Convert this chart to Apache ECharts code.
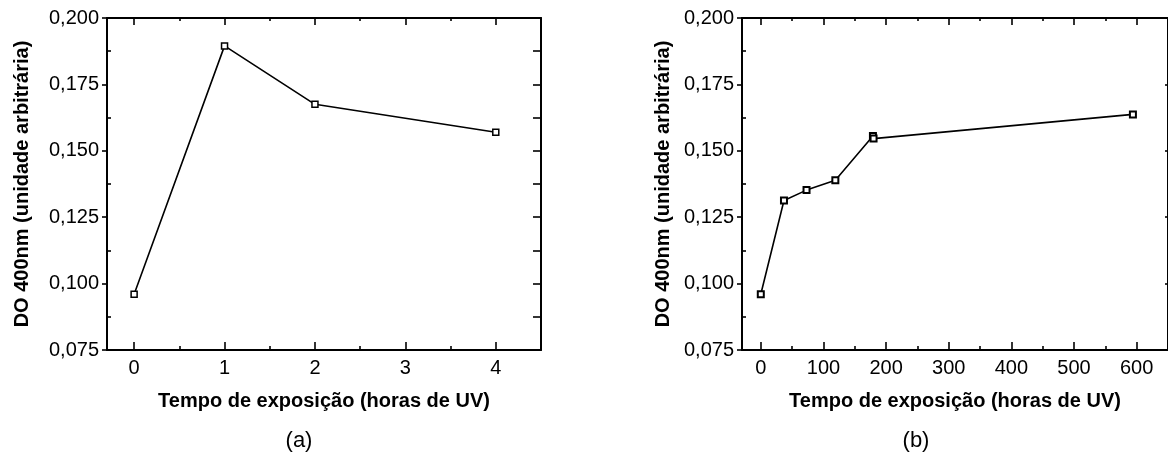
<!DOCTYPE html>
<html>
<head>
<meta charset="utf-8">
<script src="https://cdn.jsdelivr.net/npm/echarts@6/dist/echarts.min.js"></script>
<style>
html, body { margin: 0; padding: 0; background: #fff; }
#chart { width: 1168px; height: 457px; }
</style>
</head>
<body>
<div id="chart"></div>
<script>
//(a) tempo de exposição em horas e DO 400nm
var horasA = [0, 1, 2, 4];
var doA = [0.096, 0.1895, 0.1675, 0.157];
//(b) tempo de exposição em horas e DO 400nm
var horasB = [0, 37, 73, 119, 179, 180, 594];
var doB = [0.096, 0.1313, 0.1352, 0.1389, 0.1556, 0.1546, 0.1637];

//marcas dos eixos
var ticksXA = [0, 1, 2, 3, 4];
var minorXA = [0.5, 1.5, 2.5, 3.5];
var ticksXB = [0, 100, 200, 300, 400, 500, 600];
var minorXB = [50, 150, 250, 350, 450, 550];
var ticksY = [0.075, 0.1, 0.125, 0.15, 0.175, 0.2];
var minorY = [0.0875, 0.1125, 0.1375, 0.1625, 0.1875];

var xTitle = 'Tempo de exposição (horas de UV)';
var yTitle = 'DO 400nm (unidade arbitrária)';

var font = 'Liberation Sans';
var black = '#000';

var pairs = function(xs, ys) {
	var out = [];
	for(var i = 0; i < xs.length; i++) {
		out.push([xs[i], ys[i]]);
	}
	return out;
};

var tickLine = { color: black, width: 1.6 };

var makeAxis = function(gi, pos, min, max, ticks, len, opts) {
	var ax = {
		gridIndex: gi,
		type: 'value',
		position: pos,
		min: min,
		max: max,
		axisLine: { show: !!opts.line, onZero: false, lineStyle: { color: black, width: 2 } },
		axisTick: { show: true, inside: opts.outside ? false : true, length: len, customValues: ticks, lineStyle: tickLine },
		axisLabel: { show: false },
		splitLine: { show: false }
	};
	if(opts.label) {
		ax.axisLabel = {
			show: true,
			customValues: ticks,
			color: black,
			fontFamily: font,
			fontSize: 20,
			margin: opts.margin || 8,
			formatter: opts.formatter
		};
	}
	if(opts.name) {
		ax.name = opts.name;
		ax.nameLocation = 'middle';
		ax.nameGap = opts.nameGap;
		ax.nameTextStyle = { color: black, fontFamily: font, fontSize: 20, fontWeight: 'bold' };
	}
	return ax;
};

var fmtY = function(v) {
	return v.toFixed(3).replace('.', ',');
};

var xAxes = [
	//(a)
	makeAxis(0, 'bottom', -0.3, 4.5, ticksXA, 8, { line: true, label: true, name: xTitle, nameGap: 41 }),
	makeAxis(0, 'bottom', -0.3, 4.5, minorXA, 4, {}),
	makeAxis(0, 'top', -0.3, 4.5, ticksXA, 7, { line: true }),
	makeAxis(0, 'top', -0.3, 4.5, minorXA, 3, {}),
	//(b)
	makeAxis(1, 'bottom', -30, 650, ticksXB, 8, { line: true, label: true, name: xTitle, nameGap: 41 }),
	makeAxis(1, 'bottom', -30, 650, minorXB, 4, {}),
	makeAxis(1, 'top', -30, 650, ticksXB, 7, { line: true }),
	makeAxis(1, 'top', -30, 650, minorXB, 3, {})
];

var yAxes = [
	//(a)
	makeAxis(0, 'left', 0.075, 0.2, ticksY, 5, { line: true, outside: true, label: true, formatter: fmtY, margin: 8, name: yTitle, nameGap: 75 }),
	makeAxis(0, 'left', 0.075, 0.2, minorY, 4, {}),
	makeAxis(0, 'right', 0.075, 0.2, ticksY, 8, { line: true }),
	makeAxis(0, 'right', 0.075, 0.2, minorY, 8, {}),
	//(b)
	makeAxis(1, 'left', 0.075, 0.2, ticksY, 5, { line: true, outside: true, label: true, formatter: fmtY, margin: 8, name: yTitle, nameGap: 69 }),
	makeAxis(1, 'left', 0.075, 0.2, minorY, 4, {}),
	makeAxis(1, 'right', 0.075, 0.2, ticksY, 3, { line: true })
];

var lineSeries = function(xi, yi, data, bw) {
	return {
		type: 'line',
		xAxisIndex: xi,
		yAxisIndex: yi,
		data: data,
		symbol: 'rect',
		symbolSize: 6,
		showAllSymbol: true,
		lineStyle: { color: black, width: 1.6 },
		itemStyle: { color: '#fff', borderColor: black, borderWidth: bw },
		animation: false
	};
};

var option = {
	backgroundColor: '#fff',
	animation: false,
	grid: [
		{ left: 107, top: 18, width: 434, height: 332 },
		{ left: 742, top: 18, width: 432, height: 332 }
	],
	xAxis: xAxes,
	yAxis: yAxes,
	graphic: [{
		type: 'text',
		x: 299,
		y: 441,
		style: { text: '(a)', fill: black, font: '22px "Liberation Sans"', align: 'center', verticalAlign: 'middle' }
	}, {
		type: 'text',
		x: 916,
		y: 441,
		style: { text: '(b)', fill: black, font: '22px "Liberation Sans"', align: 'center', verticalAlign: 'middle' }
	}],
	series: [
		lineSeries(0, 0, pairs(horasA, doA), 1.5),
		lineSeries(4, 4, pairs(horasB, doB), 2)
	]
};

var chart = echarts.init(document.getElementById('chart'), null, { renderer: 'canvas' });
chart.setOption(option);
</script>
</body>
</html>
